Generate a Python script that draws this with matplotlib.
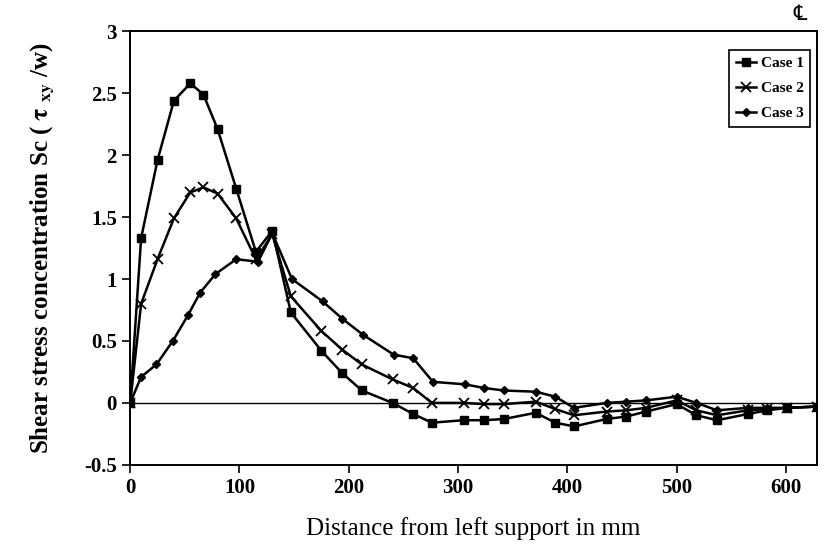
import matplotlib
matplotlib.use("Agg")
import matplotlib.pyplot as plt

# distance from left support (mm) and shear stress concentration
x12 = [0, 10, 25, 40, 55, 67, 80, 97, 115, 130, 147, 175, 194, 212, 240, 259,
       276, 305, 324, 342, 371, 389, 406, 436, 454, 472, 500, 518, 537, 565,
       583, 601, 628]
case1 = [0, 1.33, 1.96, 2.44, 2.58, 2.49, 2.21, 1.73, 1.22, 1.39, 0.73, 0.42,
         0.24, 0.10, 0.0, -0.09, -0.16, -0.14, -0.14, -0.13, -0.08, -0.16,
         -0.19, -0.13, -0.11, -0.07, -0.01, -0.10, -0.14, -0.09, -0.06,
         -0.04, -0.03]
case2 = [0, 0.80, 1.16, 1.49, 1.70, 1.74, 1.69, 1.49, 1.16, 1.36, 0.86, 0.58,
         0.43, 0.31, 0.19, 0.12, 0.0, 0.0, -0.01, -0.01, 0.01, -0.05, -0.10,
         -0.07, -0.06, -0.04, 0.02, -0.06, -0.10, -0.06, -0.05, -0.04, -0.03]
x3 = [0, 10, 24, 39, 53, 64, 78, 97, 117, 130, 148, 176, 194, 213, 241, 259,
      277, 306, 324, 342, 371, 389, 406, 436, 454, 472, 500, 518, 537, 565,
      583, 601, 628]
case3 = [0, 0.21, 0.31, 0.50, 0.71, 0.89, 1.04, 1.16, 1.14, 1.37, 1.00, 0.82,
         0.68, 0.55, 0.39, 0.36, 0.17, 0.15, 0.12, 0.10, 0.09, 0.05, -0.04,
         0.00, 0.01, 0.02, 0.05, 0.00, -0.06, -0.04, -0.04, -0.04, -0.03]

plt.rcParams['font.family'] = ['Liberation Serif', 'DejaVu Serif']
plt.rcParams['mathtext.fontset'] = 'stix'

fig = plt.figure(figsize=(8.24, 5.6), dpi=100)
fig.subplots_adjust(left=0.158, right=0.991, bottom=0.170, top=0.944)
ax = fig.add_subplot(111)

ax.axhline(0, color='black', lw=1.0, zorder=1)
ax.plot(x12, case1, '-s', color='black', lw=1.8, ms=6, label='Case 1')
ax.plot(x12, case2, '-x', color='black', lw=1.8, ms=7, mew=1.3, label='Case 2')
ax.plot(x3, case3, '-D', color='black', lw=1.8, ms=4.5, label='Case 3')

ax.set_xlim(0, 628)
ax.set_ylim(-0.5, 3)
ax.set_xticks([0, 100, 200, 300, 400, 500, 600])
ax.set_yticks([-0.5, 0, 0.5, 1, 1.5, 2, 2.5, 3])
ax.set_yticklabels(['-0.5', '0', '0.5', '1', '1.5', '2', '2.5', '3'])

for s in ax.spines.values():
    s.set_linewidth(1.4)
ax.tick_params(direction='out', length=6, width=1.2, labelsize=15)
for lab in ax.get_xticklabels() + ax.get_yticklabels():
    lab.set_fontweight('bold')

ax.set_xlabel("Distance from left support in mm", fontsize=18, labelpad=14)
ax.set_ylabel(r"Shear stress concentration Sc ( $\mathbf{\tau}$ $_{\mathbf{xy}}$ /w)",
              fontsize=18, fontweight='bold', labelpad=20)

leg = ax.legend(loc='upper right', bbox_to_anchor=(0.991, 0.958), fancybox=False,
                edgecolor='black', framealpha=1, handlelength=1.3,
                handletextpad=0.3, borderpad=0.45, labelspacing=0.75,
                borderaxespad=0, prop={'weight': 'bold', 'size': 11})
leg.get_frame().set_linewidth(1.2)

fig.text(0.971, 0.975, "\u2104", fontsize=15, ha='center', va='center',
         family=['DejaVu Serif', 'DejaVu Sans'])

fig.savefig("out.png", dpi=100)
